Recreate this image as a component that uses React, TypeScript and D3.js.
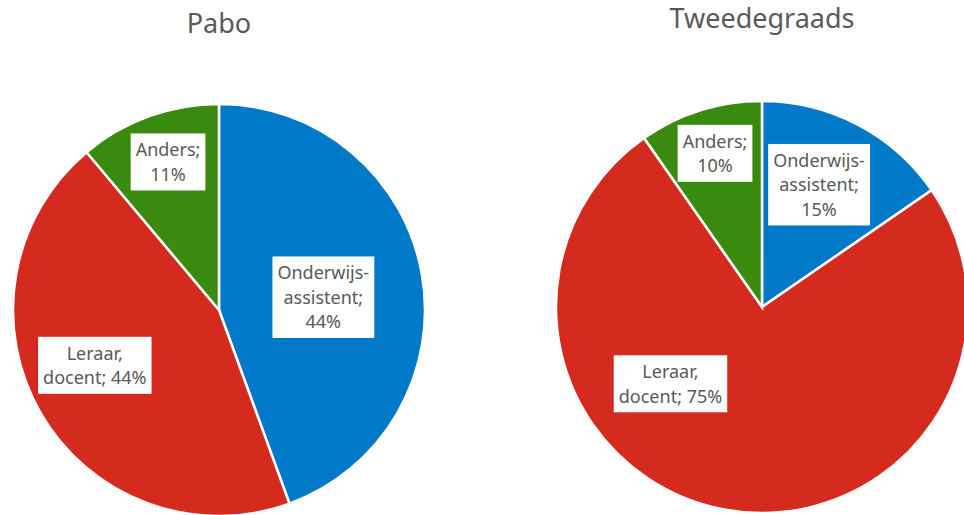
import {useEffect, useRef} from 'react';
import * as d3 from 'd3';

// slice order follows the chart: clockwise from 12 o'clock
const categories = ['Onderwijsassistent', 'Leraar, docent', 'Anders'];
const pabo = [44.4, 44.4, 11.1];
const tweedegraads = [15.4, 74.9, 9.7];
const paboLabels = ['Onderwijs-|assistent;|44%', 'Leraar,|docent; 44%', 'Anders;|11%'];
const tweedeLabels = ['Onderwijs-|assistent;|15%', 'Leraar,|docent; 75%', 'Anders;|10%'];
const titles = ['Pabo', 'Tweedegraads'];

const colors = ['#0079c8', '#d52b1f', '#3b8a10'];

// label placement (angle in degrees clockwise from top, radius as fraction)
const paboLabelPos = [[83, 0.51], [246, 0.66], [341, 0.76]];
const tweedeLabelPos = [[25, 0.655], [230, 0.58], [343, 0.78]];

const App = () => {
    const ref = useRef(null);

    useEffect(() => {
        const width = 964;
        const height = 515;
        const radius = 206;
        const font = '"Noto Sans", "Open Sans", sans-serif';

        d3.select(ref.current).selectAll('*').remove();
        const svg = d3.select(ref.current)
            .append('svg')
            .attr('width', width)
            .attr('height', height)
            .style('position', 'absolute')
            .style('left', 0)
            .style('top', 0)
            .style('background', '#fff');

        const pies = [
            {title: titles[0], values: pabo, labels: paboLabels, pos: paboLabelPos, cx: 219, cy: 310, ty: 33},
            {title: titles[1], values: tweedegraads, labels: tweedeLabels, pos: tweedeLabelPos, cx: 762, cy: 307, ty: 28},
        ];

        const pie = d3.pie<number>().sort(null).value(d => d);
        const arc = d3.arc<d3.PieArcDatum<number>>().innerRadius(0).outerRadius(radius);

        pies.forEach(p => {
            svg.append('text')
                .attr('x', p.cx)
                .attr('y', p.ty)
                .attr('text-anchor', 'middle')
                .style('font-family', font)
                .style('font-size', '27px')
                .style('fill', '#595959')
                .text(p.title);

            const g = svg.append('g').attr('transform', `translate(${p.cx},${p.cy})`);
            g.selectAll('path')
                .data(pie(p.values))
                .enter().append('path')
                .attr('d', arc)
                .attr('fill', (_d, i) => colors[i])
                .attr('stroke', '#fff')
                .attr('stroke-width', 2.5)
                .append('title')
                .text((d, i) => `${categories[i]}: ${d.data}%`);

            p.labels.forEach((lbl, i) => {
                const a = (p.pos[i][0] * Math.PI) / 180;
                const r = p.pos[i][1] * radius;
                const x = Math.sin(a) * r;
                const y = -Math.cos(a) * r;
                const lines = lbl.split('|');
                const lineH = 24.5;
                const lg = g.append('g');
                const rect = lg.append('rect').attr('fill', '#fff');
                const t = lg.append('text')
                    .attr('text-anchor', 'middle')
                    .style('font-family', font)
                    .style('font-size', '18px')
                    .style('fill', '#595959');
                const top = y - (lines.length * lineH) / 2;
                lines.forEach((line, j) => {
                    t.append('tspan')
                        .attr('x', x)
                        .attr('y', top + lineH * j + 19)
                        .text(line);
                });
                const bb = (t.node() as SVGTextElement).getBBox();
                rect.attr('x', bb.x - 5)
                    .attr('y', top - 4)
                    .attr('width', bb.width + 10)
                    .attr('height', lines.length * lineH + 8);
            });
        });
    }, []);

    return <div ref={ref}></div>;
};

export default App;
